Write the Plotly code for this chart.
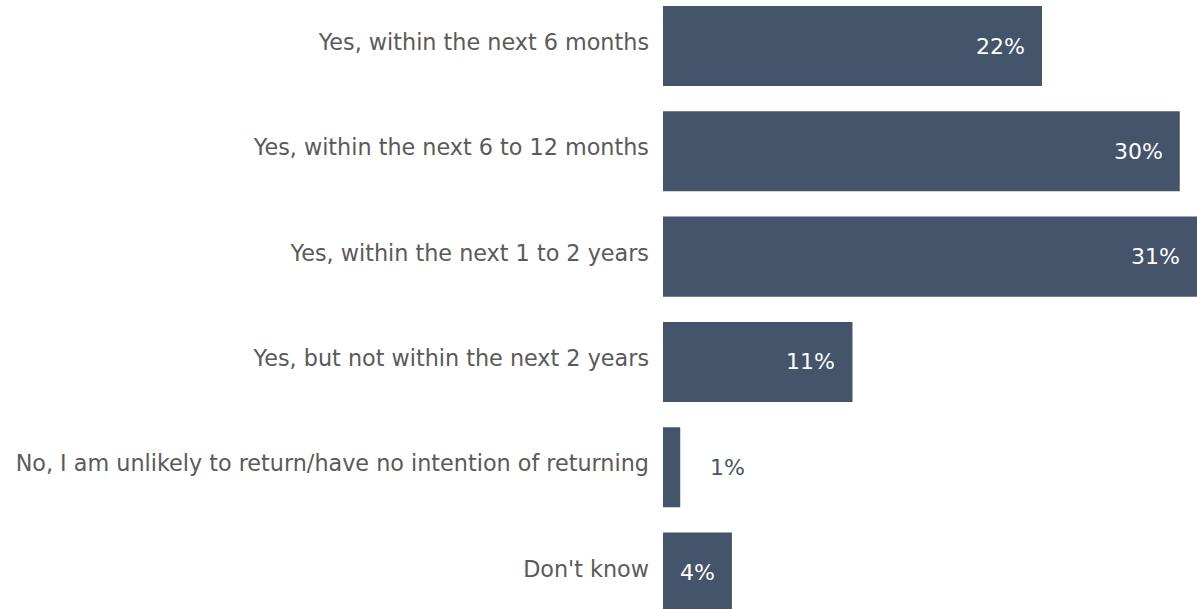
import plotly.graph_objects as go

# Survey responses: intention to return
categories = [
    "Yes, within the next 6 months",
    "Yes, within the next 6 to 12 months",
    "Yes, within the next 1 to 2 years",
    "Yes, but not within the next 2 years",
    "No, I am unlikely to return/have no intention of returning",
    "Don't know",
]
shares = [22, 30, 31, 11, 1, 4]
value_labels = ["22%", "30%", "31%", "11%", "1%", "4%"]

BAR_COLOR = "#44546a"
LABEL_GRAY = "#5a5a5a"
FONT = "DejaVu Sans, Verdana, sans-serif"

positions = list(range(len(categories)))

fig = go.Figure(
    go.Bar(
        x=shares,
        y=positions,
        orientation="h",
        width=0.76,
        marker=dict(color=BAR_COLOR, line=dict(width=0)),
        hoverinfo="skip",
    )
)

# Value labels: inside the bar end in white, outside in bar colour for tiny bars
for pos, val, txt in zip(positions, shares, value_labels):
    inside = val >= 3
    fig.add_annotation(
        x=val,
        y=pos,
        text=txt,
        showarrow=False,
        xanchor="right" if inside else "left",
        xshift=-15 if inside else 28,
        yshift=0,
        font=dict(family=FONT, size=22, color="white" if inside else BAR_COLOR),
    )

fig.update_layout(
    width=1197,
    height=609,
    margin=dict(l=663, r=0, t=0, b=0),
    paper_bgcolor="white",
    plot_bgcolor="white",
    showlegend=False,
    font=dict(family=FONT, size=22, color=LABEL_GRAY),
    xaxis=dict(
        range=[0, 31],
        visible=False,
        fixedrange=True,
    ),
    yaxis=dict(
        range=[5.346, -0.437],
        tickvals=[p - 0.035 for p in positions],
        ticktext=categories,
        showgrid=False,
        zeroline=False,
        showline=False,
        ticks="",
        ticklabelstandoff=13,
        tickfont=dict(family=FONT, size=22.3, color=LABEL_GRAY),
        fixedrange=True,
    ),
)

fig.write_html("out.html", config={"displayModeBar": False})
